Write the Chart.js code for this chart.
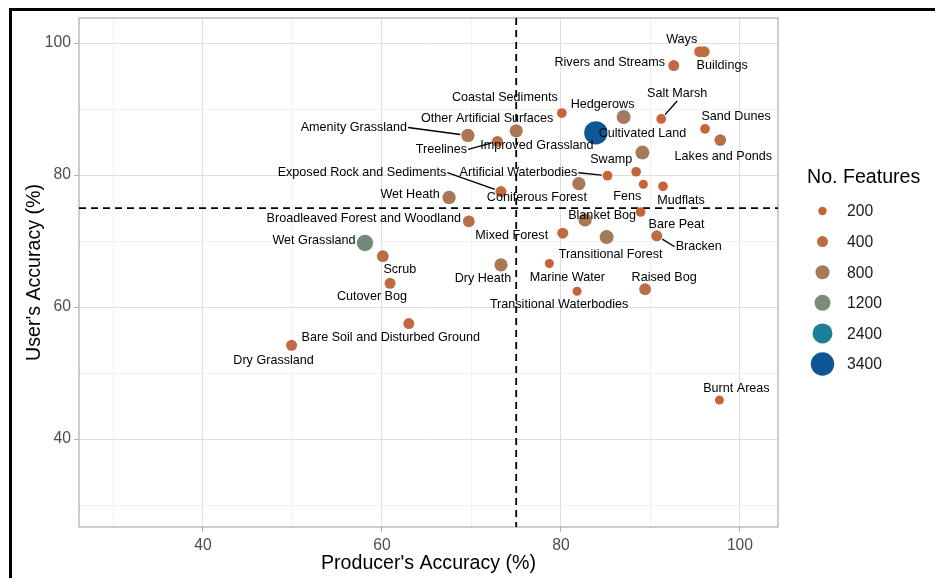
<!DOCTYPE html>
<html>
<head>
<meta charset="utf-8">
<script src="https://cdn.jsdelivr.net/npm/chart.js@4"></script>
<style>
  html, body { margin: 0; padding: 0; background: #fff; }
  #wrap { width: 935px; height: 578px; }
</style>
</head>
<body>
<div id="wrap"><canvas id="acc" width="935" height="578"></canvas></div>
<script>
// ── Data ─────────────────────────────────────────────────────
const classNames = [
  'Ways', 'Buildings', 'Rivers and Streams', 'Coastal Sediments', 'Hedgerows',
  'Salt Marsh', 'Sand Dunes', 'Lakes and Ponds', 'Improved Grassland', 'Cultivated Land',
  'Amenity Grassland', 'Other Artificial Surfaces', 'Treelines', 'Swamp', 'Artificial Waterbodies',
  'Fens', 'Mudflats', 'Coniferous Forest', 'Exposed Rock and Sediments', 'Wet Heath',
  'Bare Peat', 'Blanket Bog', 'Broadleaved Forest and Woodland', 'Mixed Forest', 'Transitional Forest',
  'Bracken', 'Wet Grassland', 'Scrub', 'Marine Water', 'Dry Heath',
  'Cutover Bog', 'Raised Bog', 'Transitional Waterbodies', 'Bare Soil and Disturbed Ground', 'Dry Grassland',
  'Burnt Areas'
];
const producerAcc = [
  95.5, 96.0, 92.6, 80.1, 87.0,
  91.2, 96.1, 97.8, 83.9, 89.1,
  69.6, 75.0, 72.9, 88.4, 85.2,
  89.2, 91.4, 82.0, 73.3, 67.5,
  88.9, 82.7, 69.7, 80.2, 85.1,
  90.7, 58.1, 60.1, 78.7, 73.3,
  60.9, 89.4, 81.8, 63.0, 49.9,
  97.7
];
const userAcc = [
  98.7, 98.7, 96.6, 89.4, 88.8,
  88.5, 87.0, 85.3, 86.4, 83.4,
  86.0, 86.7, 85.1, 80.5, 79.9,
  78.6, 78.3, 78.7, 77.5, 76.6,
  74.4, 73.2, 73.0, 71.2, 70.6,
  70.8, 69.7, 67.7, 66.6, 66.4,
  63.6, 62.7, 62.4, 57.5, 54.2,
  45.9
];
const nFeatures = [
  400, 400, 400, 300, 800,
  300, 300, 500, 3400, 800,
  700, 700, 400, 300, 300,
  250, 300, 700, 400, 700,
  300, 700, 500, 400, 800,
  400, 1300, 500, 250, 700,
  400, 500, 250, 400, 400,
  250
];
const legendBreaks = [200, 400, 800, 1200, 2400, 3400];
const xTickVals = [30, 40, 50, 60, 70, 80, 90, 100];
const yTickVals = [30, 40, 50, 60, 70, 80, 90, 100];
const refX = 75;
const refY = 75;

// ── Styling / layout ─────────────────────────────────────────
const legendColors = ['#c9602f', '#c06a41', '#a37b5c', '#7b8b78', '#1b7f97', '#0f5794'];
const legendRadii = [4.2, 5.5, 7, 8, 10, 11.7];
// label offset from its point, in pixels (as ggrepel placed them)
const labelNudge = [
  [-18, -12], [18, 14], [-64, -3], [-57, -16], [-21, -12],
  [16, -25], [31, -12], [3, 16], [-59, 13], [0, -19],
  [-114, -8], [-29, -12], [-56, 8], [-25, -12], [-89, -3],
  [-16, 12], [18, 14], [-42, 14], [-139, -19], [-39, -3],
  [36, 12], [17, -4], [-105, -3], [-51, 2], [4, 17],
  [42, 11], [-51, -3], [17, 13], [18, 14], [-18, 14],
  [-18, 13], [19, -12], [-18, 13], [-18, 14], [-18, 15],
  [17, -12]
];
const leaderLabels = ['Salt Marsh', 'Amenity Grassland', 'Treelines', 'Artificial Waterbodies',
  'Exposed Rock and Sediments', 'Bracken'];

const FONT = '"Liberation Sans", Arial, sans-serif';
const PANEL = { left: 79, right: 778, top: 18, bottom: 527 };

function hexToRgb(h) {
  const v = parseInt(h.slice(1), 16);
  return [(v >> 16) & 255, (v >> 8) & 255, v & 255];
}

function interpIndex(n) {
  if (n <= legendBreaks[0]) return [0, 0];
  for (let i = 1; i < legendBreaks.length; i++) {
    if (n <= legendBreaks[i]) {
      return [i - 1, (n - legendBreaks[i - 1]) / (legendBreaks[i] - legendBreaks[i - 1])];
    }
  }
  return [legendBreaks.length - 2, 1];
}

function sizeFor(n) {
  const [i, t] = interpIndex(n);
  const j = Math.min(i + 1, legendRadii.length - 1);
  return legendRadii[i] + (legendRadii[j] - legendRadii[i]) * t;
}

function colorFor(n) {
  const [i, t] = interpIndex(n);
  const j = Math.min(i + 1, legendColors.length - 1);
  const a = hexToRgb(legendColors[i]), b = hexToRgb(legendColors[j]);
  const c = a.map(function (v, k) { return Math.round(v + (b[k] - v) * t); });
  return 'rgb(' + c.join(',') + ')';
}

const points = producerAcc.map(function (x, i) { return { x: x, y: userAcc[i] }; });

// ── Plugins ──────────────────────────────────────────────────
const panelDecor = {
  id: 'panelDecor',
  beforeDatasetsDraw(chart) {
    const { ctx, chartArea: a, scales } = chart;
    ctx.save();
    // panel border
    ctx.strokeStyle = '#b3b3b3';
    ctx.lineWidth = 1.3;
    ctx.strokeRect(a.left, a.top, a.right - a.left, a.bottom - a.top);
    // reference lines
    ctx.strokeStyle = '#000';
    ctx.lineWidth = 1.8;
    ctx.setLineDash([7, 5]);
    const xp = scales.x.getPixelForValue(refX);
    const yp = scales.y.getPixelForValue(refY);
    ctx.beginPath();
    ctx.moveTo(xp, a.top); ctx.lineTo(xp, a.bottom);
    ctx.moveTo(a.left, yp); ctx.lineTo(a.right, yp);
    ctx.stroke();
    ctx.restore();
  },
  afterDatasetsDraw(chart) {
    const { ctx, scales } = chart;
    ctx.save();
    ctx.font = '12.6px ' + FONT;
    ctx.fillStyle = '#000';
    ctx.textAlign = 'center';
    ctx.textBaseline = 'middle';
    classNames.forEach(function (name, i) {
      const px = scales.x.getPixelForValue(producerAcc[i]);
      const py = scales.y.getPixelForValue(userAcc[i]);
      const cx = px + labelNudge[i][0];
      const cy = py + labelNudge[i][1];
      ctx.fillText(name, cx, cy);
      if (leaderLabels.indexOf(name) >= 0) {
        const w = ctx.measureText(name).width;
        const l = cx - w / 2 - 1, r = cx + w / 2 + 1, t = cy - 7, b = cy + 7;
        let sx, sy;
        if (px < l) { sx = l; sy = cy; }
        else if (px > r) { sx = r; sy = cy; }
        else { sx = cx; sy = py > cy ? b : t; }
        const dx = px - sx, dy = py - sy;
        const len = Math.sqrt(dx * dx + dy * dy);
        const rad = sizeFor(nFeatures[i]) + 1;
        ctx.strokeStyle = '#000';
        ctx.lineWidth = 1.4;
        ctx.beginPath();
        ctx.moveTo(sx, sy);
        ctx.lineTo(px - dx / len * rad, py - dy / len * rad);
        ctx.stroke();
      }
    });
    ctx.restore();
  },
  afterDraw(chart) {
    const { ctx } = chart;
    ctx.save();
    // legend
    ctx.fillStyle = '#000';
    ctx.textBaseline = 'middle';
    ctx.textAlign = 'left';
    ctx.font = '19.6px ' + FONT;
    ctx.fillText('No. Features', 807, 178);
    ctx.font = '15.7px ' + FONT;
    legendBreaks.forEach(function (v, i) {
      const y = 211 + i * 30.6;
      ctx.fillStyle = legendColors[i];
      ctx.beginPath();
      ctx.arc(822.5, y, legendRadii[i], 0, Math.PI * 2);
      ctx.fill();
      ctx.fillStyle = '#1a1a1a';
      ctx.fillText(String(v), 847, y + 1);
    });
    // outer frame
    ctx.strokeStyle = '#000';
    ctx.lineWidth = 3;
    ctx.beginPath();
    ctx.moveTo(10.5, 578);
    ctx.lineTo(10.5, 9.5);
    ctx.lineTo(935, 9.5);
    ctx.stroke();
    ctx.restore();
  }
};

// ── Chart ────────────────────────────────────────────────────
function isMajor(v) { return v % 20 === 0; }

function axisCommon(tickVals, title, titlePad) {
  return {
    type: 'linear',
    afterBuildTicks: function (s) { s.ticks = tickVals.map(function (v) { return { value: v }; }); },
    grid: {
      color: function (c) { return c.tick && isMajor(c.tick.value) ? '#dedede' : '#eeeeee'; },
      lineWidth: function (c) { return c.tick && isMajor(c.tick.value) ? 1 : 0.8; },
      tickColor: function (c) { return c.tick && isMajor(c.tick.value) ? '#b3b3b3' : 'rgba(0,0,0,0)'; },
      tickLength: 5,
      drawTicks: true,
    },
    border: { display: false },
    ticks: {
      autoSkip: false,
      maxRotation: 0,
      color: '#4d4d4d',
      font: { family: FONT, size: 15.7 },
      callback: function (v) { return isMajor(v) ? String(v) : ''; },
    },
    title: {
      display: true,
      text: title,
      color: '#000',
      font: { family: FONT, size: 19.6 },
      padding: titlePad,
    },
  };
}

const xAxis = axisCommon(xTickVals, "Producer's Accuracy (%)", { top: 0, bottom: 3 });
xAxis.min = 26.15; xAxis.max = 104.25;
xAxis.ticks.padding = 4;
xAxis.afterFit = function (s) { s.height = 578 - PANEL.bottom; };

const yAxis = axisCommon(yTickVals, "User's Accuracy (%)", { top: 23, bottom: 0 });
yAxis.min = 26.67; yAxis.max = 103.8;
yAxis.ticks.padding = 3;
yAxis.afterFit = function (s) { s.width = PANEL.left; };

new Chart(document.getElementById('acc'), {
  type: 'scatter',
  data: {
    datasets: [{
      data: points,
      pointRadius: nFeatures.map(sizeFor),
      pointBackgroundColor: nFeatures.map(colorFor),
      pointBorderWidth: 0,
      pointBorderColor: 'rgba(0,0,0,0)',
    }],
  },
  options: {
    responsive: false,
    animation: false,
    events: [],
    devicePixelRatio: 1,
    layout: { padding: { left: 0, right: 935 - PANEL.right, top: PANEL.top, bottom: 0 } },
    plugins: { legend: { display: false }, tooltip: { enabled: false } },
    scales: { x: xAxis, y: yAxis },
  },
  plugins: [panelDecor],
});
</script>
</body>
</html>
